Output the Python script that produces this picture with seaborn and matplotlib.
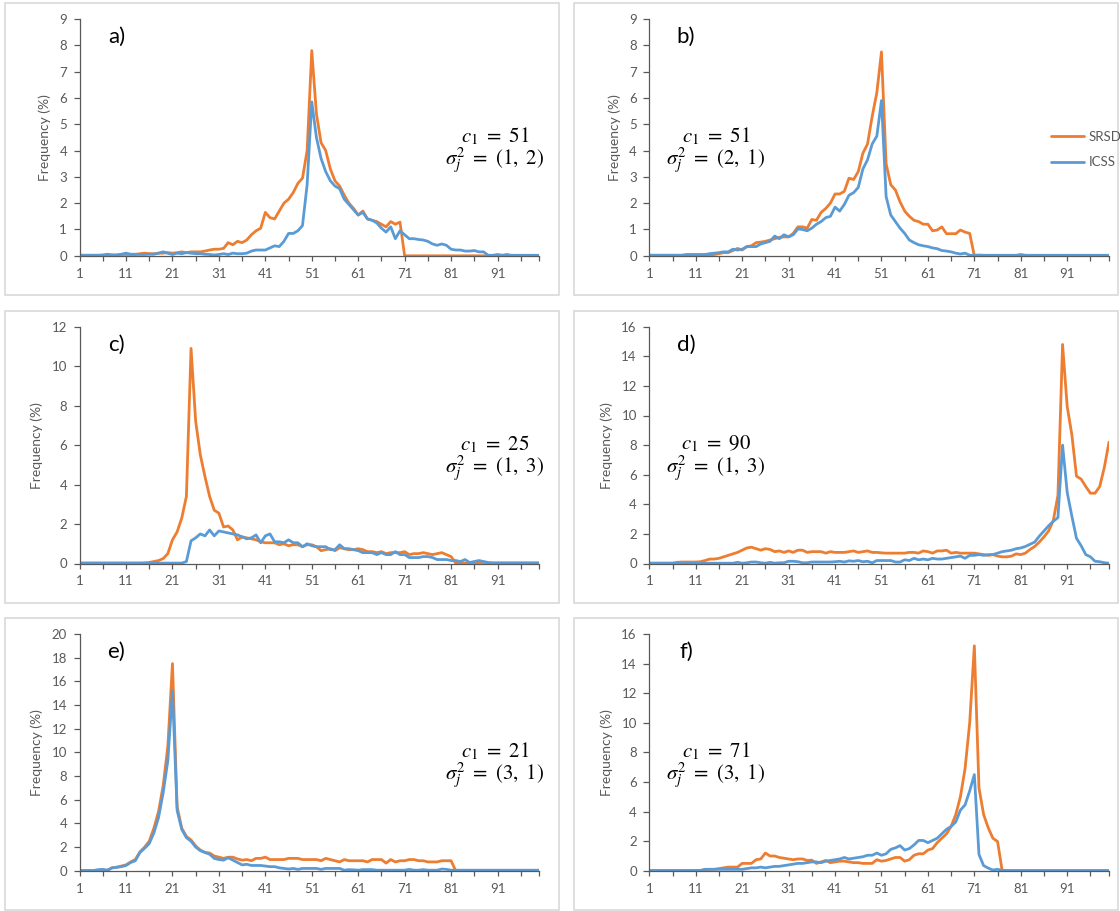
import matplotlib
matplotlib.use("Agg")
import matplotlib.pyplot as plt
import seaborn as sns
import pandas as pd
from matplotlib.patches import Rectangle
from matplotlib.lines import Line2D

sns.set_style("white")
plt.rcParams["font.family"] = ["Lato", "DejaVu Sans"]
plt.rcParams["mathtext.fontset"] = "stix"

# ---------------- data ----------------
positions = list(range(1, 101))
series_names = ["SRSD", "ICSS"]
series_colors = {"SRSD": "#ED7D31", "ICSS": "#5B9BD5"}
x_tick_labels = [1, 11, 21, 31, 41, 51, 61, 71, 81, 91]

a_srsd = [0.02, 0.02, 0.02, 0.02, 0.02, 0.02, 0.03, 0.03, 0.03, 0.05,
          0.05, 0.05, 0.05, 0.08, 0.1, 0.08, 0.08, 0.1, 0.1, 0.12,
          0.1, 0.12, 0.15, 0.12, 0.15, 0.15, 0.15, 0.18, 0.22, 0.25,
          0.25, 0.28, 0.5, 0.42, 0.55, 0.5, 0.6, 0.8, 0.95, 1.05,
          1.65, 1.45, 1.4, 1.7, 2.0, 2.15, 2.4, 2.75, 2.95, 4.0,
          7.8, 5.4, 4.3, 4.0, 3.3, 2.85, 2.65, 2.3, 2.0, 1.8,
          1.55, 1.7, 1.4, 1.35, 1.3, 1.2, 1.1, 1.3, 1.2, 1.28,
          0, 0, 0, 0, 0, 0, 0, 0, 0, 0,
          0, 0, 0, 0, 0, 0, 0, 0, 0, 0,
          0, 0, 0, 0, 0, 0, 0, 0, 0, 0]
a_icss = [0.02, 0.02, 0.02, 0.02, 0.02, 0.03, 0.06, 0.03, 0.03, 0.06,
          0.1, 0.06, 0.06, 0.05, 0.05, 0.06, 0.06, 0.1, 0.15, 0.1,
          0.05, 0.1, 0.08, 0.12, 0.1, 0.08, 0.08, 0.06, 0.05, 0.03,
          0.05, 0.08, 0.05, 0.1, 0.08, 0.08, 0.1, 0.18, 0.22, 0.22,
          0.22, 0.3, 0.38, 0.35, 0.55, 0.85, 0.85, 0.95, 1.15, 2.7,
          5.85, 4.5, 3.7, 3.2, 2.85, 2.65, 2.55, 2.15, 1.95, 1.75,
          1.55, 1.65, 1.4, 1.35, 1.25, 1.05, 0.9, 1.1, 0.65, 0.95,
          0.8, 0.65, 0.65, 0.62, 0.6, 0.55, 0.45, 0.4, 0.45, 0.4,
          0.25, 0.22, 0.22, 0.18, 0.18, 0.2, 0.15, 0.15, 0.02, 0.02,
          0.05, 0.02, 0.05, 0.02, 0.02, 0.02, 0.02, 0.02, 0.02, 0.02]

b_srsd = [0.02, 0.02, 0.02, 0.02, 0.02, 0.02, 0.02, 0.02, 0.02, 0.02,
          0.02, 0.02, 0.02, 0.03, 0.05, 0.08, 0.12, 0.12, 0.2, 0.28,
          0.22, 0.35, 0.38, 0.5, 0.52, 0.55, 0.6, 0.65, 0.7, 0.72,
          0.72, 0.85, 1.1, 1.1, 1.05, 1.38, 1.35, 1.65, 1.8, 2.0,
          2.35, 2.35, 2.45, 2.95, 2.9, 3.2, 3.9, 4.25, 5.3, 6.2,
          7.75, 3.5, 2.7, 2.5, 2.05, 1.7, 1.5, 1.35, 1.3, 1.2,
          1.2, 0.95, 0.98, 1.1, 0.84, 0.84, 0.84, 0.98, 0.9, 0.85,
          0, 0, 0, 0, 0, 0, 0, 0, 0, 0,
          0, 0, 0, 0, 0, 0, 0, 0, 0, 0,
          0, 0, 0, 0, 0, 0, 0, 0, 0, 0]
b_icss = [0.02, 0.02, 0.02, 0.02, 0.02, 0.02, 0.02, 0.02, 0.05, 0.05,
          0.05, 0.05, 0.05, 0.08, 0.1, 0.12, 0.15, 0.15, 0.25, 0.22,
          0.25, 0.35, 0.35, 0.35, 0.45, 0.5, 0.55, 0.75, 0.65, 0.8,
          0.72, 0.8, 1.02, 1.0, 0.95, 1.05, 1.2, 1.3, 1.45, 1.5,
          1.85, 1.7, 1.95, 2.3, 2.4, 2.6, 3.3, 3.65, 4.25, 4.55,
          5.9, 2.25, 1.55, 1.3, 1.05, 0.85, 0.6, 0.5, 0.42, 0.38,
          0.35, 0.3, 0.27, 0.2, 0.18, 0.15, 0.1, 0.07, 0.1, 0.02,
          0.02, 0.03, 0.02, 0.02, 0.02, 0.02, 0.02, 0.02, 0.02, 0.02,
          0.05, 0.02, 0.02, 0.02, 0.02, 0.02, 0.02, 0.02, 0.02, 0.02,
          0.02, 0.02, 0.02, 0.02, 0.02, 0.02, 0.02, 0.02, 0.02, 0.02]

c_srsd = [0.02, 0.02, 0.02, 0.02, 0.02, 0.02, 0.02, 0.02, 0.02, 0.02,
          0.02, 0.02, 0.02, 0.02, 0.03, 0.05, 0.1, 0.15, 0.25, 0.5,
          1.2, 1.6, 2.3, 3.4, 10.9, 7.2, 5.5, 4.4, 3.4, 2.7,
          2.55, 1.85, 1.9, 1.7, 1.2, 1.35, 1.3, 1.25, 1.2, 1.1,
          1.05, 1.05, 1.05, 0.95, 1.0, 0.9, 0.95, 0.95, 0.85, 0.95,
          0.95, 0.85, 0.65, 0.7, 0.75, 0.65, 0.8, 0.75, 0.7, 0.7,
          0.75, 0.7, 0.6, 0.6, 0.55, 0.6, 0.5, 0.55, 0.55, 0.55,
          0.6, 0.45, 0.5, 0.5, 0.55, 0.5, 0.45, 0.5, 0.55, 0.45,
          0.35, 0.02, 0.02, 0.02, 0.02, 0.02, 0.05, 0.05, 0.02, 0.02,
          0.02, 0.02, 0.02, 0.02, 0.02, 0.02, 0.02, 0.02, 0.02, 0.02]
c_icss = [0.02, 0.02, 0.02, 0.02, 0.02, 0.02, 0.02, 0.02, 0.02, 0.02,
          0.02, 0.02, 0.02, 0.02, 0.02, 0.02, 0.02, 0.02, 0.02, 0.02,
          0.02, 0.02, 0.02, 0.1, 1.15, 1.3, 1.5, 1.4, 1.7, 1.4,
          1.65, 1.6, 1.55, 1.5, 1.45, 1.35, 1.25, 1.3, 1.45, 1.05,
          1.4, 1.5, 1.1, 1.1, 1.05, 1.2, 1.05, 1.05, 0.85, 1.0,
          0.9, 0.85, 0.85, 0.85, 0.7, 0.7, 0.95, 0.75, 0.75, 0.7,
          0.65, 0.55, 0.55, 0.55, 0.45, 0.55, 0.45, 0.45, 0.6, 0.45,
          0.45, 0.3, 0.3, 0.3, 0.35, 0.35, 0.3, 0.2, 0.2, 0.2,
          0.15, 0.15, 0.1, 0.2, 0.05, 0.1, 0.15, 0.1, 0.05, 0.03,
          0.03, 0.03, 0.03, 0.03, 0.03, 0.03, 0.03, 0.03, 0.03, 0.03]

d_srsd = [0.02, 0.02, 0.02, 0.02, 0.02, 0.02, 0.08, 0.1, 0.1, 0.1,
          0.1, 0.12, 0.2, 0.3, 0.3, 0.35, 0.45, 0.55, 0.65, 0.75,
          0.9, 1.05, 1.1, 1.0, 0.9, 1.0, 0.95, 0.8, 0.85, 0.75,
          0.85, 0.75, 0.9, 0.9, 0.75, 0.8, 0.8, 0.8, 0.7, 0.8,
          0.75, 0.75, 0.75, 0.8, 0.85, 0.75, 0.8, 0.85, 0.75, 0.75,
          0.72, 0.7, 0.7, 0.7, 0.7, 0.7, 0.75, 0.75, 0.7, 0.85,
          0.8, 0.7, 0.85, 0.85, 0.9, 0.7, 0.75, 0.7, 0.7, 0.7,
          0.7, 0.65, 0.6, 0.55, 0.6, 0.5, 0.45, 0.45, 0.5, 0.65,
          0.6, 0.7, 0.95, 1.15, 1.45, 1.8, 2.2, 2.9, 4.6, 14.8,
          10.6, 8.7, 5.9, 5.7, 5.2, 4.75, 4.75, 5.2, 6.5, 8.2]
d_icss = [0.02, 0.02, 0.02, 0.02, 0.02, 0.02, 0.02, 0.02, 0.02, 0.02,
          0.02, 0.02, 0.02, 0.02, 0.02, 0.02, 0.02, 0.02, 0.02, 0.08,
          0.02, 0.05, 0.1, 0.1, 0.05, 0.02, 0.08, 0.02, 0.05, 0.05,
          0.15, 0.15, 0.12, 0.05, 0.05, 0.1, 0.1, 0.1, 0.1, 0.1,
          0.12, 0.15, 0.1, 0.18, 0.15, 0.2, 0.12, 0.15, 0.05, 0.2,
          0.2, 0.2, 0.2, 0.1, 0.1, 0.25, 0.2, 0.35, 0.25, 0.3,
          0.25, 0.35, 0.3, 0.3, 0.35, 0.4, 0.45, 0.5, 0.35, 0.55,
          0.55, 0.6, 0.55, 0.6, 0.6, 0.7, 0.8, 0.85, 0.9, 1.0,
          1.05, 1.15, 1.3, 1.45, 1.85, 2.2, 2.55, 2.85, 3.1, 8.0,
          4.8, 3.2, 1.7, 1.2, 0.6, 0.45, 0.15, 0.12, 0.05, 0.02]

e_srsd = [0.02, 0.02, 0.02, 0.02, 0.02, 0.05, 0.05, 0.25, 0.3, 0.4,
          0.5, 0.75, 0.95, 1.6, 2.0, 2.5, 3.6, 5.0, 7.2, 10.5,
          17.5, 5.4, 3.6, 2.9, 2.6, 2.1, 1.75, 1.55, 1.5, 1.25,
          1.15, 1.05, 1.15, 1.15, 1.0, 0.9, 0.95, 0.85, 1.05, 1.05,
          1.15, 0.95, 0.95, 0.95, 0.95, 1.05, 1.05, 1.05, 0.95, 0.95,
          0.95, 0.95, 0.85, 1.05, 0.95, 0.85, 0.75, 0.95, 0.85, 0.85,
          0.85, 0.85, 0.75, 0.95, 0.95, 0.95, 0.65, 0.95, 0.75, 0.85,
          0.85, 0.95, 0.95, 0.85, 0.85, 0.75, 0.75, 0.75, 0.85, 0.85,
          0.85, 0, 0, 0, 0, 0, 0, 0, 0, 0,
          0, 0, 0, 0, 0, 0, 0, 0, 0, 0]
e_icss = [0.02, 0.02, 0.02, 0.02, 0.1, 0.12, 0.05, 0.25, 0.3, 0.35,
          0.45, 0.7, 0.85, 1.55, 1.9, 2.3, 3.2, 4.5, 6.6, 9.3,
          15.2, 5.1, 3.5, 2.8, 2.5, 2.0, 1.7, 1.55, 1.4, 1.05,
          0.95, 0.9, 1.1, 0.9, 0.7, 0.5, 0.55, 0.45, 0.45, 0.45,
          0.4, 0.35, 0.35, 0.25, 0.2, 0.15, 0.2, 0.12, 0.2, 0.2,
          0.2, 0.2, 0.12, 0.2, 0.2, 0.2, 0.2, 0.05, 0.1, 0.08,
          0.05, 0.1, 0.1, 0.1, 0.05, 0.05, 0.05, 0.05, 0.05, 0.05,
          0.05, 0.12, 0.05, 0.05, 0.1, 0.05, 0.05, 0.05, 0.15, 0.12,
          0.05, 0.05, 0.05, 0.05, 0.05, 0.05, 0.05, 0.05, 0.05, 0.05,
          0.05, 0.05, 0.05, 0.05, 0.05, 0.05, 0.05, 0.05, 0.05, 0.05]

f_srsd = [0.02, 0.02, 0.02, 0.02, 0.02, 0.02, 0.02, 0.02, 0.02, 0.02,
          0.02, 0.02, 0.08, 0.1, 0.1, 0.15, 0.2, 0.25, 0.25, 0.25,
          0.5, 0.5, 0.5, 0.75, 0.8, 1.2, 1.0, 1.0, 0.9, 0.85,
          0.8, 0.75, 0.8, 0.8, 0.7, 0.72, 0.5, 0.6, 0.7, 0.55,
          0.6, 0.65, 0.65, 0.6, 0.55, 0.55, 0.5, 0.5, 0.5, 0.75,
          0.65, 0.7, 0.8, 0.9, 0.9, 0.65, 0.75, 1.05, 1.15, 1.15,
          1.4, 1.5, 1.9, 2.2, 2.5, 3.0, 3.8, 5.0, 6.9, 10.0,
          15.2, 5.6, 3.8, 2.9, 2.2, 1.98, 0, 0, 0, 0,
          0, 0, 0, 0, 0, 0, 0, 0, 0, 0,
          0, 0, 0, 0, 0, 0, 0, 0, 0, 0]
f_icss = [0.02, 0.02, 0.02, 0.02, 0.02, 0.02, 0.02, 0.02, 0.02, 0.02,
          0.02, 0.02, 0.1, 0.1, 0.1, 0.1, 0.1, 0.1, 0.1, 0.1,
          0.1, 0.15, 0.2, 0.2, 0.25, 0.2, 0.25, 0.3, 0.3, 0.35,
          0.4, 0.45, 0.5, 0.5, 0.55, 0.6, 0.6, 0.55, 0.65, 0.7,
          0.75, 0.8, 0.9, 0.8, 0.85, 0.9, 0.95, 1.05, 1.05, 1.2,
          1.05, 1.15, 1.45, 1.55, 1.7, 1.4, 1.5, 1.75, 2.05, 2.05,
          1.9, 2.05, 2.2, 2.5, 2.8, 3.0, 3.3, 4.1, 4.45, 5.4,
          6.5, 1.1, 0.35, 0.18, 0.05, 0.1, 0.03, 0.02, 0.02, 0.02,
          0.02, 0.02, 0.02, 0.02, 0.02, 0.02, 0.02, 0.02, 0.02, 0.02,
          0.02, 0.02, 0.02, 0.02, 0.02, 0.02, 0.02, 0.02, 0.02, 0.02]

panel_labels = ["a)", "b)", "c)", "d)", "e)", "f)"]
c1_values = [51, 51, 25, 90, 21, 71]
sigma_values = ["(1,\\ 2)", "(2,\\ 1)", "(1,\\ 3)", "(1,\\ 3)", "(3,\\ 1)", "(3,\\ 1)"]
y_max = [9, 9, 12, 16, 20, 16]
y_step = [1, 1, 2, 2, 2, 2]
srsd_all = [a_srsd, b_srsd, c_srsd, d_srsd, e_srsd, f_srsd]
icss_all = [a_icss, b_icss, c_icss, d_icss, e_icss, f_icss]

# ---------------- layout ----------------
W, H = 1120, 911
fig = plt.figure(figsize=(W / 100, H / 100), dpi=100)

col_left_px = [79.6, 649.3]
ax_w_px = 459.7
row_top_px = [19.0, 326.7, 634.0]
ax_h_px = 236.8
box_x = [(5, 559), (574, 1118)]
box_y = [(3, 295), (311, 603), (618, 910)]

axis_gray = "#595959"
text_gray = "#595959"

for r in range(3):
    for c in range(2):
        x0, x1 = box_x[c]
        y0, y1 = box_y[r]
        fig.patches.append(Rectangle((x0 / W, 1 - y1 / H), (x1 - x0) / W, (y1 - y0) / H,
                                     transform=fig.transFigure, fill=False,
                                     edgecolor="#d9d9d9", linewidth=1.2))

axes = []
for k in range(6):
    r, c = divmod(k, 2)
    left = col_left_px[c] / W
    bottom = 1 - (row_top_px[r] + ax_h_px) / H
    ax = fig.add_axes([left, bottom, ax_w_px / W, ax_h_px / H])
    axes.append(ax)

    df = pd.DataFrame({
        "pos": positions * 2,
        "freq": srsd_all[k] + icss_all[k],
        "series": ["SRSD"] * 100 + ["ICSS"] * 100,
    })
    sns.lineplot(data=df, x="pos", y="freq", hue="series", hue_order=series_names,
                 palette=series_colors, linewidth=2.0, ax=ax, legend=False)

    ax.set_xlim(1, 100)
    ax.set_ylim(0, y_max[k])
    ax.set_yticks(list(range(0, y_max[k] + 1, y_step[k])))
    ax.set_xticks(x_tick_labels)
    ax.set_xticks(list(range(6, 100, 10)) + [100], minor=True)
    ax.set_xlabel("")
    ax.set_ylabel("Frequency (%)", color=text_gray, fontsize=10, labelpad=6)

    for s in ["top", "right"]:
        ax.spines[s].set_visible(False)
    for s in ["left", "bottom"]:
        ax.spines[s].set_color(axis_gray)
        ax.spines[s].set_linewidth(0.9)
    ax.tick_params(axis="y", which="major", direction="out", length=4, width=0.9,
                   color=axis_gray, labelcolor=text_gray, labelsize=9.5, pad=5, left=True)
    ax.tick_params(axis="x", which="both", direction="out", length=3.5, width=0.9,
                   color=axis_gray, labelcolor=text_gray, labelsize=9.5, pad=5, bottom=True)

    ax.text(0.08, 0.923, panel_labels[k], transform=ax.transAxes, ha="center", va="center",
            fontsize=16, color="black")
    tx = 0.9036 if c == 0 else 0.145
    ax.text(tx, 0.505, r"$c_1\ =\ %d$" % c1_values[k], transform=ax.transAxes,
            ha="center", va="center", fontsize=15, color="black")
    ax.text(tx, 0.40, r"$\sigma_j^2\ =\ %s$" % sigma_values[k], transform=ax.transAxes,
            ha="center", va="center", fontsize=15, color="black")

handles = [Line2D([], [], color=series_colors[n], linewidth=2.0) for n in series_names]
fig.legend(handles, series_names, loc="center left",
           bbox_to_anchor=(1051 / W, 1 - 149.5 / H), frameon=False, fontsize=9.5,
           labelcolor=text_gray, handlelength=2.5, handletextpad=0.35,
           labelspacing=1.05, borderpad=0, borderaxespad=0)

fig.savefig("out.png", dpi=100, facecolor="white")
